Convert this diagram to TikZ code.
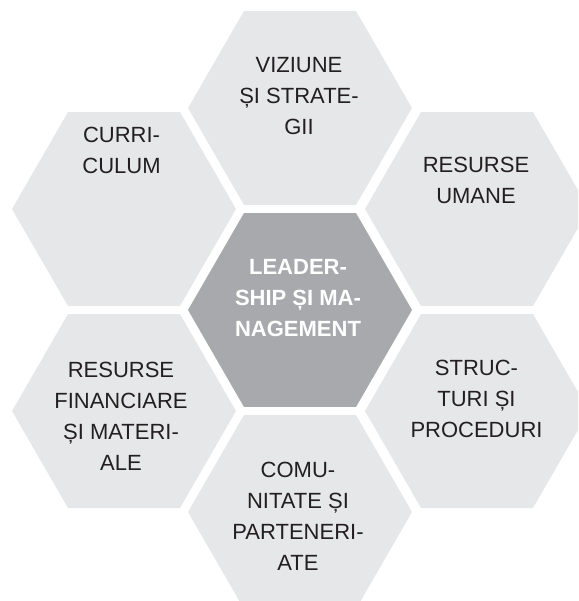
\documentclass[tikz,border=0pt]{standalone}
\usepackage{fontspec}
\setmainfont{Liberation Sans}
\usetikzlibrary{shapes.geometric}
\definecolor{hexlight}{HTML}{E6E7E8}
\definecolor{hexdark}{HTML}{A7A9AC}
\definecolor{txtdark}{HTML}{231F20}
\tikzset{
  hexshape/.style={regular polygon, regular polygon sides=6, minimum size=224pt,
    inner sep=0pt, outer sep=0pt, draw=none},
  outerhex/.style={hexshape, fill=hexlight},
  centerhex/.style={hexshape, fill=hexdark},
  lbl/.style={align=center, inner sep=0pt, anchor=base, text=txtdark,
    font=\fontsize{22}{31}\selectfont},
  centerlbl/.style={lbl, text=white, font=\fontsize{22}{31}\selectfont\bfseries}
}
\begin{document}
\begin{tikzpicture}[x=1pt,y=-1pt]
\useasboundingbox (0,0) rectangle (578,601);
\clip (0,0) rectangle (578,601);
\node[outerhex] (top) at (300,108) {};
\node[outerhex] (ul) at (124,209) {};
\node[outerhex] (ur) at (477,209) {};
\node[centerhex] (ctr) at (300,310) {};
\node[outerhex] (ll) at (124,411) {};
\node[outerhex] (lr) at (477,411) {};
\node[outerhex] (bot) at (300,512) {};
\node[lbl] (ttop) at (299,135) {VIZIUNE\\ȘI STRATE-\\GII};
\node[lbl] (tul) at (121.5,173.3) {CURRI-\\CULUM};
\node[lbl] (tur) at (476,204) {RESURSE\\UMANE};
\node[centerlbl] (tctr) at (298,336.7) {LEADER-\\SHIP ȘI MA-\\NAGEMENT};
\node[lbl] (tll) at (121,470) {RESURSE\\FINANCIARE\\ȘI MATERI-\\ALE};
\node[lbl] (tlr) at (476.5,437.7) {STRUC-\\TURI ȘI\\PROCEDURI};
\node[lbl] (tbot) at (298,570.7) {COMU-\\NITATE ȘI\\PARTENERI-\\ATE};
\end{tikzpicture}
\end{document}
